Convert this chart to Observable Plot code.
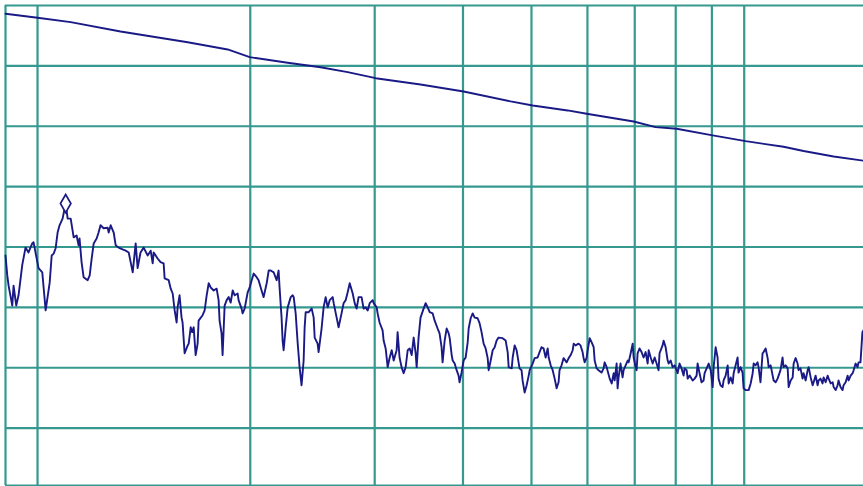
<!DOCTYPE html>
<html>
<head>
<meta charset="utf-8">
<script src="https://cdn.jsdelivr.net/npm/d3@7"></script>
<script src="https://cdn.jsdelivr.net/npm/@observablehq/plot@0.6"></script>
<style>
  html, body { margin: 0; padding: 0; background: #ffffff; overflow: hidden; }
  #chart svg { display: block; }
</style>
</head>
<body>
<div id="chart"></div>
<script>
// Frequency (Hz) and level (dB) of the noisy spectrum trace
const spectrumFreq = [
  -110, -103.6, -98.9, -85.8, -81.2, -71.8, -63.8, -51.1, -39.9, -29.8, -17.4, -13.1,
  3.3, 15.6, 26.8, 40.4, 47.2, 54, 60.8, 67.6, 74.4, 85.1, 96, 103.2, 114.1, 125, 135.9, 143.1, 146.8,
  154.3, 162, 177.5, 185.3, 193, 200.8, 212.4, 220.1, 227.9, 240.3, 256.8, 261, 269.2, 281.7, 289.9, 302.3,
  319.4, 332.7, 345.9, 363.6, 376.8, 385.6, 398.8, 413, 431.8,
  445.9, 455.3, 460, 478.9, 493, 508.1, 513.1, 533.2, 543.3, 553.3, 563.4, 573.4, 578.4, 588.5, 598.9, 604.2,
  614.9, 631.1, 636.5, 647.2, 655, 663.3, 674, 684.8, 690.2, 712.4, 723.8, 735.2, 746.7, 758.1, 775.3, 792.5,
  804, 809.7, 821.5, 827.6, 839.8, 852.1, 864.3, 876.5, 888.7, 901, 919.3, 925.4, 944.1, 950.7, 963.7, 983.3,
  996.3, 1009.4, 1022.4, 1042, 1055.1, 1075.1, 1089, 1109.9, 1123.8, 1137.8, 1158.7, 1179.5, 1193.5, 1200.4,
  1214.8, 1222.3, 1229.7, 1244.6, 1259.4, 1281.7, 1296.6,
  1304, 1318.9, 1333.7, 1348.6, 1363.9, 1379.8, 1387.7, 1395.7, 1419.4, 1443.2, 1459.1, 1467, 1490.8, 1498.7,
  1523.1, 1540, 1556.9, 1573.9, 1590.8, 1616.2, 1624.7, 1650.1, 1667, 1692.9, 1711, 1729.1, 1747.2, 1765.3,
  1792.4, 1810.5, 1828.5, 1846.6, 1874.3, 1893.6, 1912.9, 1932.2, 1951.5, 1980.4, 1990.1, 2019, 2028.7, 2048,
  2078.2, 2088.5, 2109, 2129.6, 2150.2, 2170.8, 2191.4, 2222.2, 2232.5, 2253.1, 2274.4, 2296.4, 2318.3, 2340.3,
  2362.3, 2384.2, 2406.2, 2428.2, 2439.3, 2461.1, 2483.1, 2518.3, 2541.8, 2565.2, 2588.7, 2623.9, 2647.3,
  2682.5, 2706, 2730.2, 2742.7, 2767.8, 2792.8, 2817.8, 2830.3, 2855.4, 2867.9, 2892.9, 2917.9, 2943, 2955.5,
  2981.4, 3008.1, 3034.8, 3061.5, 3074.8, 3101.5, 3128.2, 3154.9, 3195, 3221.7, 3249.4, 3277.9, 3306.4, 3334.9,
  3349.2, 3377.7, 3406.2, 3434.8, 3463.3, 3491.8, 3550.7, 3596.4, 3626.8, 3642, 3687.7, 3702.9, 3733.3, 3763.8,
  3794.1, 3809.5, 3840.9, 3857.2, 3889.7, 3922.1, 3954.6, 3970.8, 4019.5, 4052, 4100.8, 4133.3, 4166.8, 4201.5,
  4236.2, 4270.8, 4288.2, 4322.8, 4357.5, 4392.2, 4426.9, 4461.5, 4478.9, 4514.7, 4551.7, 4607.2, 4644.2, 4681.2,
  4718.3, 4736.8, 4773.8, 4829.3, 4866.3, 4905.8, 4925.6, 4945.3, 4984.8, 5004.6, 5044.1, 5083.6, 5123.1, 5142.8,
  5182.3, 5221.8, 5282.4, 5324.5, 5345.6, 5387.8, 5451, 5493.2, 5535.4, 5556.4, 5598.6, 5619.7, 5640.7, 5682.9,
  5727.9, 5750.4, 5795.4, 5840.3, 5862.8, 5907.8, 5952.8, 5975.3, 6020.2, 6042.7, 6065.2, 6110.2, 6156.7, 6204.8,
  6252.8, 6300.8, 6324.9, 6372.9, 6420.9, 6469, 6517, 6565.1, 6589.1, 6664.4, 6690, 6741.3, 6792.5, 6818.1,
  6869.4, 6920.7, 6971.9, 7023.2, 7048.8, 7100.1, 7153.1, 7207.8, 7235.1, 7289.8, 7317.2, 7371.9, 7454, 7508.7,
  7563.4, 7590.8, 7645.5, 7702, 7760.4, 7789.6, 7848, 7906.3, 7964.7, 8023.1, 8052.3, 8110.7, 8169, 8198.2,
  8256.6, 8318.9, 8350.1, 8412.4, 8474.8, 8505.9, 8568.3, 8630.6, 8661.8, 8724.1, 8786.5, 8817.7, 8880, 8946.5,
  8979.8, 9046.3, 9146, 9212.5, 9279, 9312.3, 9378.8, 9445.3, 9478.5, 9545, 9616, 9651.5, 9722.5, 9793.5,
  9829, 9900, 9971, 10006.5, 10077.5, 10148.5, 10255, 10330.8, 10368.7, 10444.5, 10520.3, 10558.2, 10634, 10709.8,
  10747.7, 10823.5, 10899.3, 10937.2, 11013, 11093.9, 11134.4, 11215.3, 11296.2, 11336.6, 11417.5, 11498.4, 11538.9, 11619.8,
  11700.7, 11741.1, 11822, 11908.3, 11951.5, 12037.8, 12124.1, 12167.2, 12253.5, 12339.8, 12383, 12469.3, 12555.6, 12598.7,
  12685, 12777.1, 12823.2, 12915.3, 13007.4, 13053.4, 13145.5, 13237.6, 13283.7, 13375.8, 13467.9, 13513.9, 13606, 13698,
  13750
];
const spectrumLevel = [
  -41.4, -44.7, -46.4, -49.7, -46.4, -49.7, -48.0, -43.0, -40.1, -40.9, -39.4, -39.2,
  -43.5, -44.2, -50.5, -45.9, -41.4, -41.1, -40.2, -37.6, -36.4, -35.3, -32.8, -35.3, -35.3, -38.4, -38.1, -39.7, -38.6,
  -42.5, -45.0, -45.5, -44.7, -41.9, -39.4, -38.6, -37.6, -36.4, -36.9, -36.8, -37.6, -36.4, -37.6, -39.7, -40.1,
  -40.4, -40.6, -40.9, -44.2, -39.4, -43.5, -40.9, -40.1, -41.4,
  -40.6, -42.7, -40.9, -41.9, -42.5, -42.7, -45.2, -45.5, -46.9, -47.7, -50.5, -52.5, -50.0, -48.0, -51.7, -52.5,
  -57.6, -56.3, -56.0, -53.3, -54.1, -53.3, -57.9, -56.0, -52.2, -51.3, -50.5, -48.0, -46.0, -46.7, -47.2, -46.9,
  -48.8, -52.2, -54.3, -57.9, -49.7, -48.8, -48.3, -49.2, -47.2, -48.0, -47.7, -48.8, -50.2, -51.0, -50.2, -47.5,
  -46.7, -45.5, -44.4, -45.0, -45.5, -47.2, -48.3, -46.0, -43.9, -43.9, -44.2, -45.5, -43.9, -46.7,
  -51.7, -55.5, -57.1, -53.3, -50.0, -48.3, -48.0,
  -48.3, -51.0, -55.8, -59.9, -62.9, -58.8, -53.3, -50.8, -50.8, -50.2, -51.7, -55.0, -56.0, -57.4,
  -53.5, -50.0, -48.3, -50.0, -48.8, -48.3, -49.3, -51.7, -53.3, -51.0, -49.3, -48.8, -47.5, -46.0,
  -47.7, -49.3, -50.2, -48.3, -48.3, -50.2, -50.0, -50.5, -49.3, -48.8, -49.3, -50.0, -51.0, -52.5,
  -53.8, -55.5, -56.8, -59.9, -58.3, -57.1, -58.8, -57.1, -54.1, -58.3, -59.9, -60.9, -59.9, -57.1,
  -56.8, -57.9, -55.0, -57.6, -59.9, -55.0, -51.7, -50.2, -49.3, -50.0, -50.8, -51.0, -52.2,
  -53.5, -54.3, -56.6, -59.1, -55.5, -53.5, -54.3, -55.1, -57.9, -58.8, -59.3, -60.4, -61.3, -62.4,
  -60.8, -58.8, -58.3, -55.8, -53.5, -51.8, -51.0, -51.7, -51.8, -52.6, -54.1, -56.0, -56.8, -58.4,
  -60.4, -58.8, -57.1, -56.6, -55.5, -55.0, -55.1, -55.5, -57.4, -59.9, -60.1, -58.3, -56.3, -57.1,
  -59.1, -60.1, -60.4, -62.1, -64.1, -62.9, -61.3, -60.4, -59.3, -58.4, -58.3, -57.4, -56.6, -56.8,
  -58.3, -56.8, -58.3, -59.6, -60.4, -61.8, -63.4, -62.4, -60.4, -59.6, -58.4, -59.1, -58.4, -57.9,
  -57.1, -56.0, -56.3, -56.0, -56.3, -57.4, -58.4, -59.1, -58.3, -57.1, -55.1, -55.8, -56.6, -58.8,
  -60.1, -60.4, -60.8, -60.1, -59.1, -59.9, -61.8, -62.6, -60.9, -62.1, -59.3, -63.4, -61.6, -59.3,
  -61.6, -60.4, -59.6, -58.8, -59.1, -57.6, -56.0, -58.3, -59.9, -60.4, -57.6, -56.8, -57.4, -58.3,
  -57.4, -59.3, -57.1, -58.3, -59.3, -58.3, -59.3, -60.4, -57.6, -56.3, -55.5, -56.6, -58.8, -59.3,
  -58.8, -59.9, -59.6, -60.4, -60.9, -59.3, -60.1, -61.3, -60.1, -60.4, -61.8, -61.3, -62.1, -61.8,
  -61.3, -59.3, -60.9, -62.4, -62.1, -60.9, -60.1, -59.3, -60.4, -63.2, -59.9, -56.6, -58.3, -61.8,
  -62.9, -63.2, -62.1, -61.3, -59.6, -62.6, -61.6, -62.6, -60.9, -59.6, -58.3, -60.8, -59.9, -60.8,
  -63.4, -63.7, -63.7, -62.6, -60.9, -59.3, -59.6, -59.1, -59.9, -62.4, -57.6, -57.4, -56.8, -58.4,
  -59.9, -59.6, -61.3, -62.1, -62.4, -61.8, -60.4, -58.3, -59.9, -59.6, -60.1, -63.2, -62.1, -61.6,
  -59.3, -58.4, -59.3, -60.4, -60.1, -61.8, -60.9, -62.1, -60.4, -59.9, -61.6, -62.9, -62.4, -61.3,
  -62.9, -62.1, -61.8, -62.6, -61.6, -62.4, -61.3, -61.8, -62.6, -62.4, -63.2, -63.7, -62.9, -62.1,
  -63.2, -63.7, -62.9, -62.4, -61.3, -62.1, -61.3, -60.9, -60.4, -59.3, -59.9, -59.1, -59.1, -54.1,
  -53.8
];

// Smooth upper trace
const envelopeFreq = [-110, 0, 114.1, 310.6, 631.1, 858.2, 996.3, 1259.4, 1514.6, 1747.2, 2009.4, 2483.1,
  3008.1, 3672.5, 4019.5, 4625.7, 4984.8, 5975.3, 6493, 7023.2, 8023.1, 9046.3, 10368.7, 11134.4, 12383, 13750];
const envelopeLevel = [-1.37, -2.04, -2.76, -4.30, -6.08, -7.28, -8.56, -9.49, -10.22, -11.04, -12.04, -13.08,
  -14.24, -15.89, -16.56, -17.38, -17.93, -19.21, -20.15, -20.41, -21.52, -22.47, -23.4, -24.1, -25.0, -25.7];

// Peak marker
const peakFreq = [96];
const peakLevel = [-32.8];

// Grid
const gridFreqs = [-110, 0, 1000, 2000, 3000, 4000, 5000, 6000, 7000, 8000, 9000];
const gridLevels = [0, -10, -20, -30, -40, -50, -60, -70, -79.5];

const spectrum = spectrumFreq.map((f, i) => ({f, db: spectrumLevel[i]}));
const envelope = envelopeFreq.map((f, i) => ({f, db: envelopeLevel[i]}));
const peak = peakFreq.map((f, i) => ({f, db: peakLevel[i]}));

const gridColor = "#35998f";
const lineColor = "#1a1a86";

const chart = Plot.plot({
  width: 863,
  height: 486,
  marginLeft: 5,
  marginRight: 0,
  marginTop: 5,
  marginBottom: 1,
  style: {background: "#ffffff", overflow: "visible"},
  x: {type: "symlog", constant: 1000, domain: [-110, 13750], axis: null},
  y: {domain: [-79.5, 0], axis: null},
  marks: [
    Plot.ruleY(gridLevels, {stroke: gridColor, strokeWidth: 2.2}),
    Plot.ruleX(gridFreqs, {stroke: gridColor, strokeWidth: 2.2}),
    Plot.line(envelope, {x: "f", y: "db", stroke: lineColor, strokeWidth: 1.9}),
    Plot.line(spectrum, {x: "f", y: "db", stroke: lineColor, strokeWidth: 1.9}),
    Plot.dot(peak, {x: "f", y: "db", symbol: "diamond", r: 5.5, stroke: lineColor, strokeWidth: 1.7, fill: "white"})
  ]
});
document.getElementById("chart").appendChild(chart);
</script>
</body>
</html>
